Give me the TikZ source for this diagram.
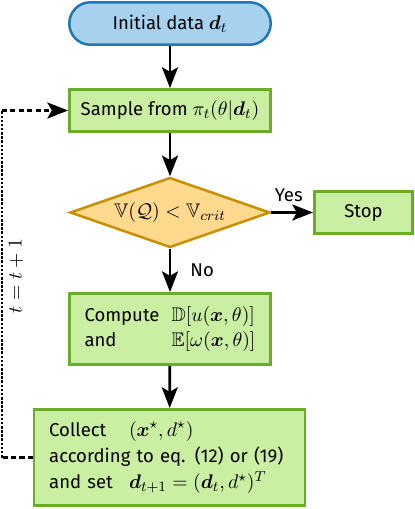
\documentclass[tikz,border=0pt]{standalone}
\usepackage{amsmath,amssymb,bm}
\usepackage{fontspec}
\setmainfont{Fira Sans}[Scale=0.94]
\usetikzlibrary{shapes.geometric,arrows.meta}
\definecolor{bluefill}{RGB}{166,210,240}
\definecolor{blueline}{RGB}{31,119,180}
\definecolor{greenfill}{RGB}{202,239,162}
\definecolor{greenline}{RGB}{106,174,40}
\definecolor{orangefill}{RGB}{255,218,142}
\definecolor{orangeline}{RGB}{200,144,0}
\begin{document}
\begin{tikzpicture}[x=0.5556pt,y=-0.5556pt,
  every node/.style={font=\fontsize{10.95}{13.6}\selectfont, inner sep=0pt},
  startbox/.style={draw=blueline, fill=bluefill, line width=1.39pt, rounded corners=11.7pt, minimum width=111.9pt, minimum height=23.6pt},
  procbox/.style={draw=greenline, fill=greenfill, line width=1.39pt, minimum width=111.9pt, minimum height=23.6pt},
  decbox/.style={draw=orangeline, fill=orangefill, line width=1.39pt, diamond, aspect=2.8, minimum width=111.1pt, minimum height=38.9pt},
  tip/.style={-{Stealth[length=11.5pt,width=8.9pt,inset=2.5pt]}},
  flow/.style={line width=1.55pt, tip},
  loopline/.style={line width=1.5pt, dash pattern=on 2.8pt off 1.9pt},
  loopdots/.style={line width=1.6pt, dash pattern=on 1.4pt off 0.9pt},
  lbl/.style={font=\fontsize{10.95}{13.6}\selectfont}
]
\useasboundingbox (0,0) rectangle (415,509);
\node[startbox] (init) at (170,23.5) {Initial data $\bm{d}_t$};
\node[procbox] (sample) at (170,110.5) {Sample from $\pi_t(\theta|\bm{d}_t)$};
\node[decbox] (dec) at (170,212.5) {$\mathbb{V}(\mathcal{Q}) < \mathbb{V}_{crit}$};
\node[procbox, minimum width=54.7pt] (stop) at (363.5,212.5) {Stop};
\node[procbox, minimum height=39.7pt] (comp) at (170,329) {%
  \begin{tabular}{@{}l@{\hspace{6.7pt}}l@{}}
  Compute & $\mathbb{D}[u(\bm{x},\theta)]$\\[0.5pt]
  and & $\mathbb{E}[\omega(\bm{x},\theta)]$
  \end{tabular}};
\node[procbox, minimum height=53.6pt, inner xsep=8.3pt, text width=133.7pt, align=left] (coll) at (169.5,457.5) {%
  \begin{tabular}{@{}l@{\hspace{9pt}}l@{}}
  Collect & $(\bm{x}^\star, d^\star)$\\[1pt]
  \multicolumn{2}{@{}l@{}}{according to eq. (12) or (19)}\\[1pt]
  and set & $\bm{d}_{t+1} = (\bm{d}_t, d^\star)^T$
  \end{tabular}};
\draw[flow] (init) -- (sample);
\draw[flow] (sample) -- (dec);
\draw[flow] (dec) -- (stop) node[lbl, pos=0.42, above=5pt] (yes) {Yes};
\draw[flow] (dec) -- (comp) node[lbl, midway, right=10.6pt] (no) {No};
\draw[flow] (comp) -- (coll);
\coordinate (lb) at (2,457.5);
\coordinate (lt) at (2,110.5);
\draw[loopline] (coll.west) -- (lb);
\draw[loopdots] (lb) -- (lt);
\draw[loopline, tip] (lt) -- (sample.west);
\node[lbl, rotate=90] (tlabel) at (16,276) {$t = t + 1$};
\end{tikzpicture}
\end{document}
